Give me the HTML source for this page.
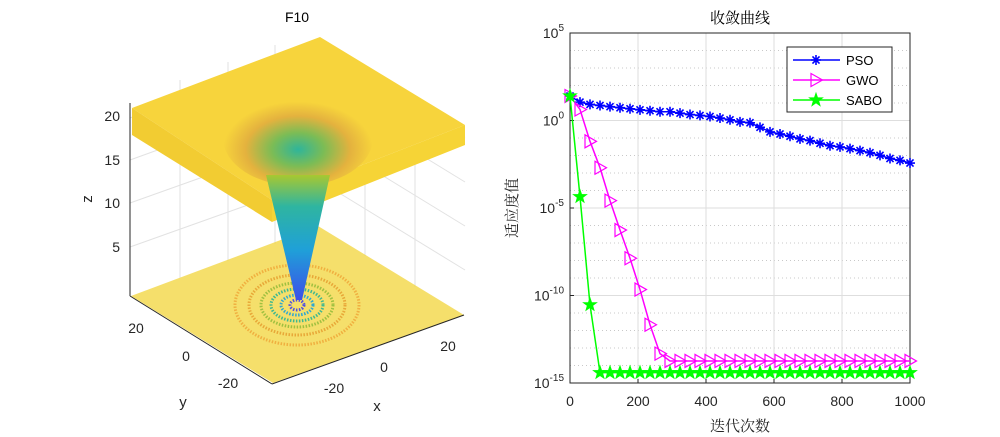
<!DOCTYPE html>
<html><head><meta charset="utf-8">
<style>
body{margin:0;background:#fff;}
svg{display:block;font-family:"Liberation Sans",sans-serif;}
.cn{font-family:"Liberation Serif","Noto Serif CJK SC",serif;}
</style></head>
<body>
<svg id="root" width="1000" height="437" viewBox="0 0 1000 437">
<defs>
<linearGradient id="cone" x1="0" y1="0" x2="0" y2="1">
<stop offset="0" stop-color="#a8c830"/><stop offset="0.25" stop-color="#2fb5a0"/><stop offset="0.6" stop-color="#1fa0d8"/><stop offset="1" stop-color="#3d4fe8"/>
</linearGradient>
<radialGradient id="hole" cx="0.5" cy="0.62" r="0.5">
<stop offset="0" stop-color="#2fb59a"/><stop offset="0.35" stop-color="#7cbc55"/><stop offset="0.7" stop-color="#e4b23e"/><stop offset="1" stop-color="#f7d43c"/>
</radialGradient>
</defs>
<g>
<text x="297" y="22" font-size="14" text-anchor="middle">F10</text>
<g stroke="#e2e2e2" stroke-width="1">
<line x1="130" y1="118" x2="318" y2="48"/><line x1="130" y1="160" x2="318" y2="92"/><line x1="130" y1="203" x2="318" y2="136"/><line x1="130" y1="247" x2="318" y2="180"/>
<line x1="318" y1="48" x2="465" y2="138"/><line x1="318" y1="92" x2="465" y2="182"/><line x1="318" y1="136" x2="465" y2="226"/><line x1="318" y1="180" x2="465" y2="270"/>
<line x1="180" y1="80" x2="180" y2="278"/><line x1="228" y1="62" x2="228" y2="261"/><line x1="275" y1="45" x2="275" y2="244"/><line x1="365" y1="70" x2="365" y2="256"/><line x1="415" y1="100" x2="415" y2="287"/>
</g>
<polygon points="131,296 318,226 464,315 273,383" fill="#f2d43a" opacity="0.75"/>
<g fill="none" stroke-width="3" stroke-dasharray="1.5 1.5">
<ellipse cx="297" cy="305" rx="62" ry="40" stroke="#f0b040"/>
<ellipse cx="297" cy="305" rx="48" ry="30" stroke="#e8a838"/>
<ellipse cx="297" cy="305" rx="36" ry="22" stroke="#a0c040"/>
<ellipse cx="297" cy="305" rx="26" ry="16" stroke="#40b890"/>
<ellipse cx="297" cy="305" rx="16" ry="10" stroke="#30a8d0"/>
<ellipse cx="297" cy="305" rx="7" ry="5" stroke="#5050e0"/>
</g>
<polygon points="132,108 320,37 465,125 272,200" fill="#f7d43c"/>
<polygon points="132,108 272,200 272,222 132,135" fill="#f2cc32"/>
<polygon points="272,200 465,125 465,145 272,222" fill="#f6d436"/>
<ellipse cx="298" cy="138" rx="75" ry="48" fill="url(#hole)"/>
<polygon points="266,175 330,175 302,300 296,300" fill="url(#cone)"/>
<polygon points="272,200 300,190 330,190 318,207 272,222" fill="#f2cc32" opacity="0.0"/>
<line x1="130" y1="103" x2="130" y2="296" stroke="#262626"/>
<line x1="130" y1="296" x2="272" y2="384" stroke="#262626"/>
<line x1="272" y1="384" x2="464" y2="315" stroke="#262626"/>
<g font-size="14" fill="#262626" text-anchor="end">
<text x="120" y="252">5</text><text x="120" y="208">10</text><text x="120" y="165">15</text><text x="120" y="121">20</text></g>
<g font-size="14" fill="#262626" text-anchor="middle">
<text x="136" y="333">20</text><text x="186" y="361">0</text><text x="228" y="388">-20</text></g>
<g font-size="14" fill="#262626" text-anchor="middle">
<text x="334" y="393">-20</text><text x="384" y="372">0</text><text x="448" y="351">20</text></g>
<text x="92" y="199" font-size="15" fill="#262626" transform="rotate(-90 92 199)" text-anchor="middle">z</text>
<text x="183" y="407" font-size="15" fill="#262626" text-anchor="middle">y</text>
<text x="377" y="411" font-size="15" fill="#262626" text-anchor="middle">x</text>
</g>
<g id="chart"></g>
</svg>
<script>
const iterTicks=[0,200,400,600,800,1000];
const expTicks=[5,0,-5,-10,-15];
const psoLog=[1.40,1.05,0.92,0.86,0.79,0.73,0.67,0.61,0.56,0.50,0.50,0.42,0.34,0.29,0.23,0.14,0.04,-0.08,-0.13,-0.39,-0.65,-0.77,-0.90,-1.05,-1.15,-1.30,-1.44,-1.51,-1.61,-1.72,-1.84,-1.99,-2.17,-2.28,-2.43];
const gwoLog=[1.40,0.63,-1.19,-2.70,-4.58,-6.26,-7.87,-9.66,-11.67,-13.32,-13.74,-13.74,-13.74,-13.74,-13.74,-13.74,-13.74,-13.74,-13.74,-13.74,-13.74,-13.74,-13.74,-13.74,-13.74,-13.74,-13.74,-13.74,-13.74,-13.74,-13.74,-13.74,-13.74,-13.74,-13.74];
const saboLog=[1.40,-4.35,-10.53,-14.41,-14.41,-14.41,-14.41,-14.41,-14.41,-14.41,-14.41,-14.41,-14.41,-14.41,-14.41,-14.41,-14.41,-14.41,-14.41,-14.41,-14.41,-14.41,-14.41,-14.41,-14.41,-14.41,-14.41,-14.41,-14.41,-14.41,-14.41,-14.41,-14.41,-14.41,-14.41];
const legendNames=["PSO","GWO","SABO"];

const NS="http://www.w3.org/2000/svg";
const g=document.getElementById('chart');
const L=570,R=910,T=33,B=383;
const X=v=>L+(v/1000)*(R-L);
const Y=e=>T+(5-e)/20*(B-T);
function mk(tag,at,parent){const e=document.createElementNS(NS,tag);for(const k in at)e.setAttribute(k,at[k]);(parent||g).appendChild(e);return e;}
for(let e=-14;e<5;e++){if(e%5===0)continue;
 const l=mk('line',{x1:L,x2:R,y1:Y(e),y2:Y(e),stroke:'#c8c8c8','stroke-dasharray':'1 3'});
 
 }
expTicks.forEach(e=>{const l=mk('line',{x1:L,x2:R,y1:Y(e),y2:Y(e),stroke:'#dedede'});
 
 });
iterTicks.forEach(v=>{const l=mk('line',{x1:X(v),x2:X(v),y1:T,y2:B,stroke:'#dedede'});
 
 });
const box=mk('rect',{x:L,y:T,width:R-L,height:B-T,fill:'none',stroke:'#262626'});


iterTicks.forEach(v=>{
 mk('line',{x1:X(v),x2:X(v),y1:B,y2:B-4,stroke:'#262626'});
 const t=mk('text',{x:X(v),y:B+23,'font-size':14,'text-anchor':'middle',fill:'#262626'});t.textContent=v;
 
 });
expTicks.forEach(e=>{
 mk('line',{x1:L,x2:L+4,y1:Y(e),y2:Y(e),stroke:'#262626'});
 const t=mk('text',{x:L-6,y:Y(e)+5,'font-size':14,'text-anchor':'end',fill:'#262626'});
 
 
 const a=document.createElementNS(NS,'tspan');a.textContent='10';t.appendChild(a);
 const b=document.createElementNS(NS,'tspan');b.setAttribute('dy','-7');b.setAttribute('font-size','10');b.textContent=e;t.appendChild(b);});
const ttl=mk('text',{x:740,y:23,'font-size':15,'text-anchor':'middle',class:'cn',fill:'#000'});ttl.textContent='收敛曲线';


const xl=mk('text',{x:740,y:431,'font-size':15,'text-anchor':'middle',class:'cn',fill:'#262626'});xl.textContent='迭代次数';


const yl=mk('text',{x:517,y:208,'font-size':15,'text-anchor':'middle',class:'cn',fill:'#262626',transform:'rotate(-90 517 208)'});yl.textContent='适应度值';



function marker(type,x,y,c,parent){
 if(type==='ast'){let d='';for(let k=0;k<4;k++){const a=k*Math.PI/4;d+=`M${x-5*Math.cos(a)} ${y-5*Math.sin(a)}L${x+5*Math.cos(a)} ${y+5*Math.sin(a)}`;}
  return mk('path',{d,stroke:c,'stroke-width':1.6,fill:'none'},parent);}
 if(type==='tri')return mk('polygon',{points:`${x-5},${y-6.5} ${x+6.5},${y} ${x-5},${y+6.5}`,stroke:c,'stroke-width':1.2,fill:'none'},parent);
 let p=[];for(let k=0;k<10;k++){const r=k%2?2.8:7,a=-Math.PI/2+k*Math.PI/5;p.push((x+r*Math.cos(a)).toFixed(1)+','+(y+r*Math.sin(a)).toFixed(1));}
 return mk('polygon',{points:p.join(' '),fill:c,stroke:c,'stroke-width':0.8},parent);
}
const series=[[psoLog,'#0000ff','ast'],[gwoLog,'#ff00ff','tri'],[saboLog,'#00ff00','star']];
series.forEach((s,si)=>{
 const [vals,c,m]=s;const n=vals.length;
 const grp=mk('g',{});
 
 
 const pts=vals.map((v,i)=>[X(i*1000/(n-1)),Y(v)]);
 const pl=mk('polyline',{points:pts.map(p=>p.join(',')).join(' '),fill:'none',stroke:c,'stroke-width':1.5},grp);
 
 
 pts.forEach(p=>{const mm=marker(m,p[0],p[1],c,grp);
  
  });
});
const lg=mk('g',{});


mk('rect',{x:787,y:47,width:105,height:65,fill:'#fff',stroke:'#262626'},lg);
series.forEach((s,i)=>{const y=60+i*20;
 const e=mk('g',{},lg);
 
 
 mk('line',{x1:793,x2:840,y1:y,y2:y,stroke:s[1],'stroke-width':1.5},e);
 marker(s[2],816,y,s[1],e);
 const t=mk('text',{x:846,y:y+5,'font-size':13,fill:'#000'},e);t.textContent=legendNames[i];});
</script>
</body></html>
